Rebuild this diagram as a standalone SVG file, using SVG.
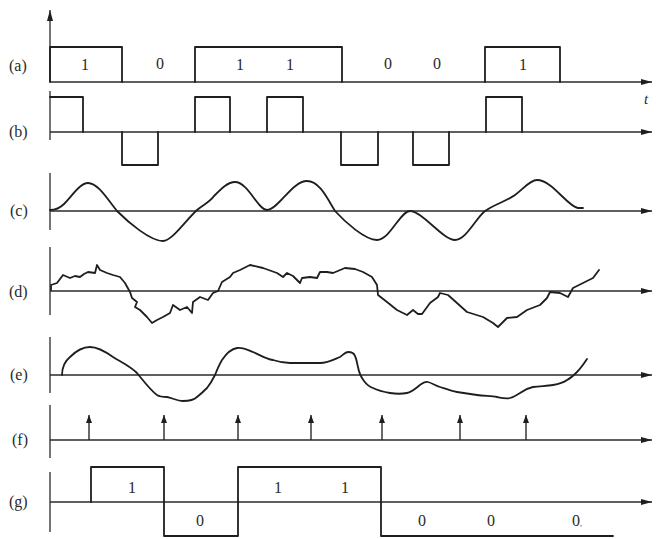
<svg xmlns="http://www.w3.org/2000/svg" width="656" height="539" viewBox="0 0 656 539">
<style>
.ax{stroke:#2a2a2a;stroke-width:1.3;fill:none}
.w{stroke:#1e1e1e;stroke-width:1.8;fill:none;stroke-linejoin:round;stroke-linecap:round}
.lb{font-family:"Liberation Serif","DejaVu Serif",serif;font-size:16px;fill:#2a2a2a}
.n{font-family:"Liberation Serif","DejaVu Serif",serif;font-size:16px;fill:#2a2a2a;text-anchor:middle}
</style>
<defs>
<marker id="ar" markerUnits="userSpaceOnUse" markerWidth="12" markerHeight="8" refX="11" refY="4" orient="auto"><path d="M0,1 L11,4 L0,7 z" fill="#1e1e1e"/></marker>
<marker id="ai" markerUnits="userSpaceOnUse" markerWidth="9" markerHeight="7" refX="8" refY="3" orient="auto"><path d="M0,0 L8,3 L0,6 z" fill="#1e1e1e"/></marker>
</defs>

<g id="labels">
<text class="lb" x="9" y="71">(a)</text>
<text class="lb" x="9" y="137">(b)</text>
<text class="lb" x="10" y="216">(c)</text>
<text class="lb" x="9" y="297">(d)</text>
<text class="lb" x="10" y="380">(e)</text>
<text class="lb" x="12" y="445">(f)</text>
<text class="lb" x="9" y="507">(g)</text>
<text x="644" y="104" style="font-family:'Liberation Serif',serif;font-style:italic;font-size:15px;fill:#2a2a2a">t</text>
</g>

<g id="row-a">
<line class="ax" x1="50" y1="82" x2="50" y2="10" marker-end="url(#ar)"/>
<line class="ax" x1="50" y1="82" x2="652" y2="82" marker-end="url(#ar)"/>
<path class="w" d="M50,82 L50,47 L122,47 L122,82 M195,82 L195,47 L342,47 L342,82 M485,82 L485,47 L560,47 L560,82"/>
<text class="n" x="85" y="70">1</text>
<text class="n" x="160" y="69">0</text>
<text class="n" x="240" y="70">1</text>
<text class="n" x="290" y="70">1</text>
<text class="n" x="388" y="69">0</text>
<text class="n" x="437" y="69">0</text>
<text class="n" x="523" y="70">1</text>
</g>

<g id="row-b">
<line class="ax" x1="50" y1="91" x2="50" y2="140"/>
<line class="ax" x1="50" y1="132" x2="652" y2="132" marker-end="url(#ar)"/>
<path class="w" d="M50,97 L83,97 L83,132 M122,132 L122,165 L158,165 L158,132 M195,132 L195,97 L230,97 L230,132 M267,132 L267,97 L303,97 L303,132 M341,132 L341,165 L378,165 L378,132 M413,132 L413,165 L449,165 L449,132 M486,132 L486,97 L522,97 L522,132"/>
</g>

<g id="row-c">
<line class="ax" x1="50" y1="173" x2="50" y2="230"/>
<line class="ax" x1="50" y1="211" x2="652" y2="211" marker-end="url(#ar)"/>
<path class="w" d="M50,210 C56,210 60,208 64,204 C72,196 80,183 88,183 C98,183 108,200 117,211 C128,222 150,241 163,241 C172,241 186,220 197,210 C204,204 210,202 214,196 C222,188 228,182 235,182 C248,182 258,210 267,210 C278,210 292,181 307,181 C320,181 328,200 335,211 C345,222 365,240 377,240 C390,240 400,211 410,211 C422,211 443,240 455,240 C466,240 476,218 485,211 C495,204 505,202 515,195 C523,189 530,180 537,180 C552,180 568,207 578,208 L583,208"/>
</g>

<g id="row-d">
<line class="ax" x1="50" y1="247" x2="50" y2="315"/>
<line class="ax" x1="50" y1="291" x2="652" y2="291" marker-end="url(#ar)"/>
<path class="w" d="M51,290 L51,285 L57,283 L63,275 L70,278 L75,276 L80,277 L84,274 L88,272 L95,273 L97,265 L100,270 L107,273 L113,275 L120,277 L125,283 L130,292 L132,298 L137,302 L135,307 L140,310 L147,317 L152,323 L157,320 L163,317 L170,313 L173,305 L180,310 L187,307 L192,313 L193,302 L200,297 L208,300 L213,293 L218,291 L222,282 L230,277 L233,273 L240,270 L250,265 L263,268 L277,273 L283,277 L287,273 L293,276 L300,283 L302,278 L310,277 L317,278 L320,272 L327,272 L333,273 L345,268 L355,269 L363,272 L372,277 L377,285 L378,295 L387,302 L397,310 L407,315 L413,310 L418,314 L422,314 L430,303 L438,297 L440,293 L448,295 L457,303 L467,312 L483,317 L493,323 L498,327 L507,318 L517,317 L527,310 L540,305 L547,298 L550,292 L560,293 L568,297 L573,288 L583,283 L593,278 L599,270"/>
</g>

<g id="row-e">
<line class="ax" x1="50" y1="337" x2="50" y2="393"/>
<line class="ax" x1="50" y1="375" x2="652" y2="375" marker-end="url(#ar)"/>
<path class="w" d="M62,375 C62,368 64,362 70,357 C76,351 83,347 90,347 C98,347 106,352 113,357 C121,362 130,366 137,373 C142,379 150,390 157,395 C160,397 164,397 167,397 C172,398 178,401 183,401 C189,401 194,400 197,397 C202,393 205,390 207,388 C211,383 213,379 215,375 C217,370 219,365 222,360 C226,354 231,349 237,348 C243,347 248,350 253,352 C260,355 266,359 273,360 C279,362 285,363 290,363 C300,363 312,363 320,363 C328,363 335,359 340,357 C343,355 345,352 348,352 C352,352 354,353 355,356 C357,360 357,364 358,367 C359,373 361,377 364,381 C367,385 370,387 373,388 C379,391 384,392 390,393 C396,394 402,394 407,393 C412,392 416,388 420,385 C423,383 425,381 428,382 C432,383 436,386 440,387 C446,389 451,391 457,392 C464,393 470,394 477,395 C484,396 491,396 497,397 C502,398 506,399 510,398 C514,397 517,395 520,393 C524,390 528,388 533,387 C540,386 547,386 553,385 C559,384 563,383 567,380 C571,378 574,375 577,372 C580,369 583,365 587,359"/>
</g>

<g id="row-f">
<line class="ax" x1="50" y1="405" x2="50" y2="458"/>
<line class="ax" x1="50" y1="440" x2="652" y2="440" marker-end="url(#ar)"/>
<g class="ax" style="stroke-width:1.4">
<line x1="89" y1="440" x2="89" y2="415" marker-end="url(#ai)"/>
<line x1="164" y1="440" x2="164" y2="415" marker-end="url(#ai)"/>
<line x1="238" y1="440" x2="238" y2="415" marker-end="url(#ai)"/>
<line x1="311" y1="440" x2="311" y2="415" marker-end="url(#ai)"/>
<line x1="382" y1="440" x2="382" y2="415" marker-end="url(#ai)"/>
<line x1="460" y1="440" x2="460" y2="415" marker-end="url(#ai)"/>
<line x1="526" y1="440" x2="526" y2="415" marker-end="url(#ai)"/>
</g>
</g>

<g id="row-g">
<line class="ax" x1="50" y1="472" x2="50" y2="532"/>
<line class="ax" x1="50" y1="502" x2="652" y2="502" marker-end="url(#ar)"/>
<path class="w" d="M91,502 L91,467 L164,467 L164,536 L238,536 L238,467 L381,467 L381,536 L613,536"/>
<text class="n" x="132" y="493">1</text>
<text class="n" x="200" y="526">0</text>
<text class="n" x="278" y="493">1</text>
<text class="n" x="345" y="493">1</text>
<text class="n" x="422" y="526">0</text>
<text class="n" x="491" y="526">0</text>
<text class="n" x="577" y="526">0<tspan font-size="8">,</tspan></text>
</g>
</svg>
